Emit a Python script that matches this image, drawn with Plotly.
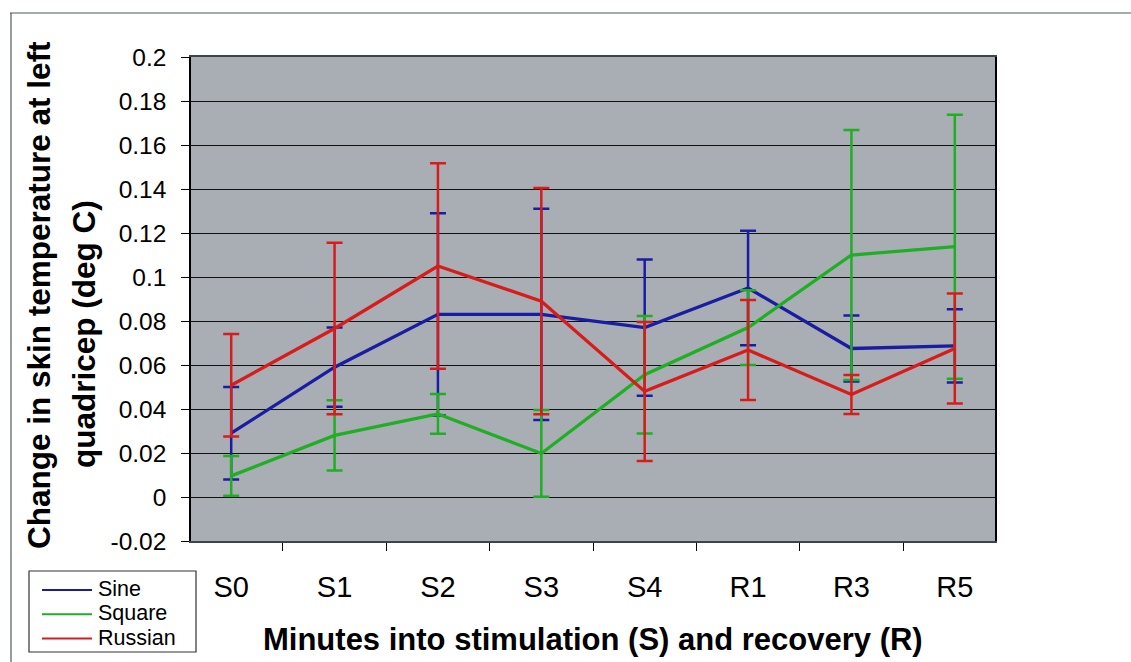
import plotly.graph_objects as go

# Time points: stimulation (S) and recovery (R)
categories = ["S0", "S1", "S2", "S3", "S4", "R1", "R3", "R5"]

# Mean change in skin temperature (deg C) and error-bar half widths
sine = [0.029, 0.059, 0.083, 0.083, 0.077, 0.095, 0.0675, 0.0687]
sine_err = [0.021, 0.018, 0.046, 0.048, 0.031, 0.026, 0.015, 0.0166]

square = [0.0096, 0.028, 0.0378, 0.0198, 0.0556, 0.077, 0.110, 0.1138]
square_err = [0.009, 0.016, 0.009, 0.0197, 0.0267, 0.017, 0.0568, 0.060]

russian = [0.0508, 0.0766, 0.105, 0.089, 0.048, 0.0668, 0.0466, 0.0675]
russian_err = [0.0233, 0.039, 0.0467, 0.0514, 0.0316, 0.0227, 0.0089, 0.025]

series_names = ["Sine", "Square", "Russian"]
series_colors = ["#1a1ca2", "#1fae24", "#d81c1c"]

y_ticks = [-0.02, 0, 0.02, 0.04, 0.06, 0.08, 0.1, 0.12, 0.14, 0.16, 0.18, 0.2]
y_tick_text = ["-0.02", "0", "0.02", "0.04", "0.06", "0.08", "0.1",
               "0.12", "0.14", "0.16", "0.18", "0.2"]

FONT = "Arial, Liberation Sans, sans-serif"
W, H = 1131, 662
ML, MR, MT, MB = 191, 136, 57, 121
PW, PH = W - ML - MR, H - MT - MB


def px(x):
    """Pixel column -> paper x."""
    return (x - ML) / PW


def py(y):
    """Pixel row -> paper y."""
    return (H - MB - y) / PH


fig = go.Figure()
for name, vals, errs, color in zip(series_names, [sine, square, russian],
                                    [sine_err, square_err, russian_err],
                                    series_colors):
    fig.add_trace(go.Scatter(
        x=categories, y=vals, name=name, mode="lines",
        line=dict(color=color, width=3.3),
        error_y=dict(type="data", array=errs, symmetric=True,
                     color=color, thickness=2.5, width=8),
        showlegend=False,
    ))

shapes = []
annotations = []

# outer chart frame (top and left edges)
shapes.append(dict(type="line", xref="paper", yref="paper",
                   x0=px(10), x1=px(1131), y0=py(13), y1=py(13),
                   line=dict(color="#4d5a5a", width=1.2)))
shapes.append(dict(type="line", xref="paper", yref="paper",
                   x0=px(11), x1=px(11), y0=py(13), y1=py(662),
                   line=dict(color="#4d5a5a", width=1.2)))

# legend box with line samples
shapes.append(dict(type="rect", xref="paper", yref="paper",
                   x0=px(29), x1=px(196), y0=py(571), y1=py(652),
                   line=dict(color="#333333", width=1.2),
                   fillcolor="white"))
legend_rows = [590, 614.3, 638.6]
for name, color, row in zip(series_names, series_colors, legend_rows):
    shapes.append(dict(type="line", xref="paper", yref="paper",
                       x0=px(42), x1=px(92), y0=py(row), y1=py(row),
                       line=dict(color=color, width=2)))
    annotations.append(dict(text=name, xref="paper", yref="paper",
                            x=px(96), y=py(row - 1), xanchor="left",
                            yanchor="middle", showarrow=False,
                            font=dict(family=FONT, size=21.5, color="black")))

# axis titles
annotations.append(dict(text="<b>Minutes into stimulation (S) and recovery (R)</b>",
                        xref="paper", yref="paper", x=px(593), y=py(639),
                        xanchor="center", yanchor="middle", showarrow=False,
                        font=dict(family=FONT, size=31, color="black")))
annotations.append(dict(text="<b>Change in skin temperature at left</b>",
                        xref="paper", yref="paper", x=px(39), y=py(295),
                        xanchor="center", yanchor="middle", showarrow=False,
                        textangle=-90,
                        font=dict(family=FONT, size=31.5, color="black")))
annotations.append(dict(text="<b>quadricep (deg C)</b>",
                        xref="paper", yref="paper", x=px(84), y=py(334),
                        xanchor="center", yanchor="middle", showarrow=False,
                        textangle=-90,
                        font=dict(family=FONT, size=31.5, color="black")))

fig.update_layout(
    width=W, height=H,
    margin=dict(l=ML, r=MR, t=MT, b=MB, pad=0),
    paper_bgcolor="white",
    plot_bgcolor="#a9aeb4",
    font=dict(family=FONT, color="black"),
    shapes=shapes,
    annotations=annotations,
    showlegend=False,
    xaxis=dict(
        type="category", categoryorder="array", categoryarray=categories,
        tickson="boundaries", ticks="outside", ticklen=8, tickwidth=1.2,
        tickcolor="black", showgrid=False, showline=True, linecolor="#3a4550",
        linewidth=1.5, mirror=True, tickfont=dict(size=29, family=FONT),
        ticklabelstandoff=19,
    ),
    yaxis=dict(
        range=[-0.02, 0.2], tickvals=y_ticks, ticktext=y_tick_text,
        ticks="outside", ticklen=8, tickwidth=1.2, tickcolor="black",
        showgrid=True, gridcolor="#111111", gridwidth=1.4,
        zeroline=True, zerolinecolor="#111111", zerolinewidth=1.4,
        showline=True, linecolor="black", linewidth=1.5, mirror=True,
        tickfont=dict(size=24.5, family=FONT), ticklabelstandoff=10,
    ),
)

fig.write_html("out.html")
